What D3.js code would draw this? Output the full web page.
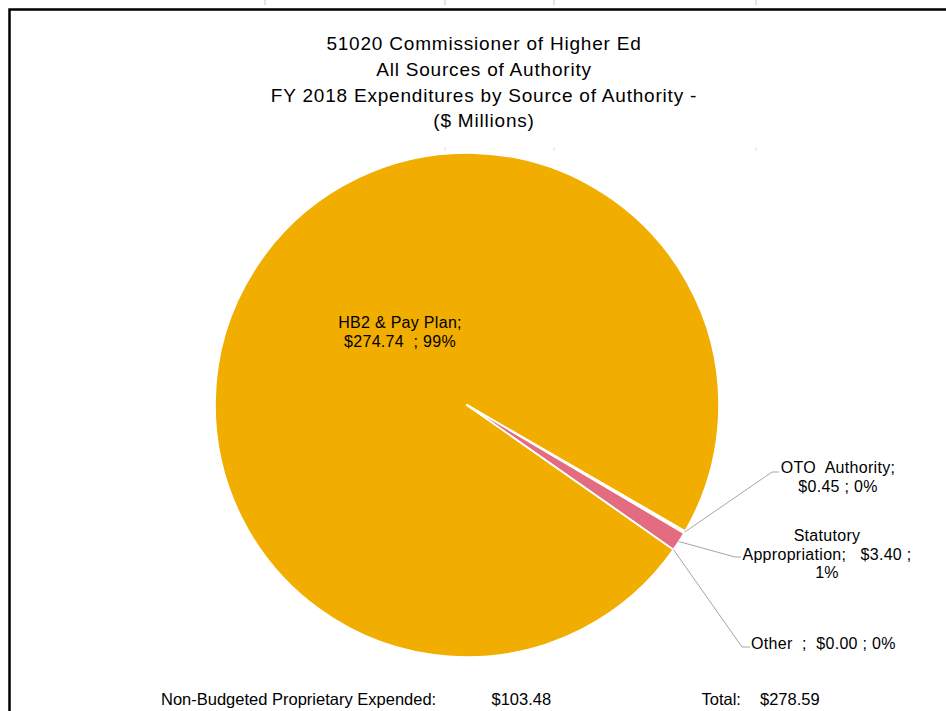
<!doctype html>
<html>
<head>
<meta charset="utf-8">
<title>51020 Commissioner of Higher Ed</title>
<script src="https://cdn.jsdelivr.net/npm/d3@7"></script>
<style>
    body { margin: 0; background: #fff; }
    svg { display: block; }
    text {
        font-family: "Liberation Sans", Arial, sans-serif;
        fill: #000;
        white-space: pre;
    }
    .title { font-size: 19px; letter-spacing: 0.8px; text-anchor: middle; }
    .lbl { font-size: 16px; letter-spacing: 0.3px; }
    .foot { font-size: 16.5px; }
    .leader { fill: none; stroke: #a6a6a6; stroke-width: 1; }
</style>
</head>
<body>
<script>
"use strict";

// chart data
const titleLines = [
    "51020 Commissioner of Higher Ed",
    "All Sources of Authority",
    "FY 2018 Expenditures by Source of Authority -",
    "($ Millions)"
];
const categories = ["HB2 & Pay Plan", "OTO Authority", "Statutory Appropriation", "Other"];
const amounts = [274.74, 0.45, 3.40, 0.00];
const sliceColors = ["#f1ae00", "#ffffff", "#e46c81", "#9db4d8"];
const nonBudgeted = 103.48;

const width = 946;
const height = 711;
const cx = 467, cy = 405, radius = 252;
const firstSliceAngle = 125; // degrees, like Excel's "angle of first slice"

const money = d3.format(".2f");
const pct = d3.format(".0%");
const total = d3.sum(amounts);

const data = categories.map((name, i) => ({ name, value: amounts[i], color: sliceColors[i] }));

const svg = d3.select("body").append("svg")
    .attr("width", width)
    .attr("height", height)
    .attr("viewBox", [0, 0, width, height]);

// sheet gridline remnants
const gridX = [265, 445, 554, 756];
svg.append("g").selectAll("line")
    .data(gridX)
    .join("line")
    .attr("x1", d => d).attr("x2", d => d)
    .attr("y1", 0).attr("y2", 5)
    .attr("stroke", "#c8c8c8");
svg.append("g").selectAll("line")
    .data(gridX.slice(1))
    .join("line")
    .attr("x1", d => d).attr("x2", d => d)
    .attr("y1", 147).attr("y2", 151)
    .attr("stroke", "#dcdcdc");

// chart frame (left and top edge visible)
svg.append("path")
    .attr("d", `M9.5,${height} V9.5 H${width}`)
    .attr("fill", "none")
    .attr("stroke", "#000")
    .attr("stroke-width", 2.5);

// title
svg.append("g").selectAll("text")
    .data(titleLines)
    .join("text")
    .attr("class", "title")
    .attr("x", 484)
    .attr("y", (d, i) => 50 + i * 25.8)
    .text(d => d);

const rad = d3.scaleLinear().domain([0, 360]).range([0, 2 * Math.PI]);

const pie = d3.pie()
    .sort(null)
    .value(d => d.value)
    .startAngle(rad(firstSliceAngle))
    .endAngle(rad(firstSliceAngle + 360));

const arc = d3.arc().innerRadius(0).outerRadius(radius);
const arcs = pie(data);

const g = svg.append("g").attr("transform", `translate(${cx},${cy})`);

g.selectAll("path")
    .data(arcs)
    .join("path")
    .attr("d", arc)
    .attr("fill", d => d.data.color)
    .attr("stroke", "#fff")
    .attr("stroke-width", 1.6)
    .attr("stroke-linejoin", "round");

// data labels
const valueText = d => `$${money(d.value)}`;
const pctText = d => pct(d.value / total);

const labelLayout = [
    { x: 400, y: 328, anchor: "middle", lines: d => ["HB2 & Pay Plan;", `${valueText(d)}  ; ${pctText(d)}`] },
    { x: 838, y: 473, anchor: "middle", elbow: [772, 472], end: 779,
      lines: d => ["OTO  Authority;", `${valueText(d)} ; ${pctText(d)}`] },
    { x: 827, y: 541, anchor: "middle", elbow: [735, 557], end: 741,
      lines: d => ["Statutory", `Appropriation;   ${valueText(d)} ;`, pctText(d)] },
    { x: 751, y: 649, anchor: "start", elbow: [742, 647], end: 750,
      lines: d => [`Other  ;  ${valueText(d)} ; ${pctText(d)}`] }
];

const angleMid = d => (d.startAngle + d.endAngle) / 2;

arcs.forEach((d, i) => {
    const L = labelLayout[i];
    if (L.elbow) {
        const a = angleMid(d);
        const px = cx + radius * Math.sin(a);
        const py = cy - radius * Math.cos(a);
        svg.append("path")
            .attr("class", "leader")
            .attr("d", d3.line()([[px, py], L.elbow, [L.end, L.elbow[1]]]));
    }
    const t = svg.append("text")
        .attr("class", "lbl")
        .attr("text-anchor", L.anchor);
    L.lines(d.data).forEach((s, j) => {
        t.append("tspan")
            .attr("x", L.x)
            .attr("y", L.y + j * 18.7)
            .text(s);
    });
});

// footer
const foot = svg.append("g").attr("class", "foot");
foot.append("text").attr("x", 161).attr("y", 705).text("Non-Budgeted Proprietary Expended:");
foot.append("text").attr("x", 491.5).attr("y", 705).text(`$${money(nonBudgeted)}`);
foot.append("text").attr("x", 701.5).attr("y", 705).text("Total:");
foot.append("text").attr("x", 760).attr("y", 705).text(`$${money(total)}`);
</script>
</body>
</html>
